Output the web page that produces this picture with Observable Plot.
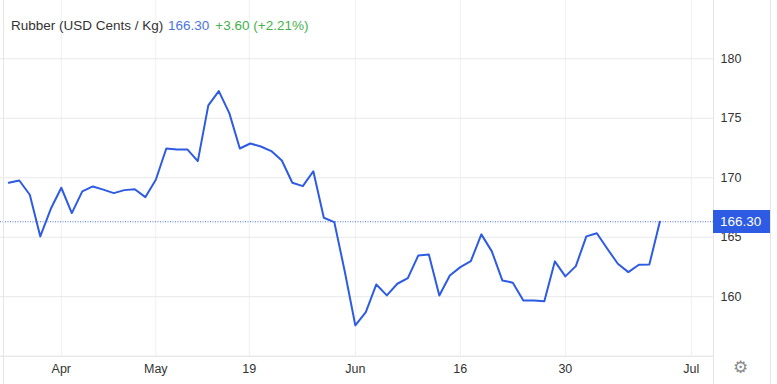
<!DOCTYPE html>
<html>
<head>
<meta charset="utf-8">
<script src="https://cdn.jsdelivr.net/npm/d3@7"></script>
<script src="https://cdn.jsdelivr.net/npm/@observablehq/plot@0.6"></script>
<style>
  html, body { margin: 0; padding: 0; background: #fff; }
  #wrap { position: relative; width: 777px; height: 384px; overflow: hidden; font-family: "Liberation Sans", Arial, sans-serif; }
  #title { position: absolute; left: 11px; top: 18px; font-size: 13.5px; color: #333; white-space: nowrap; }
  #title .val { color: #4d74dc; margin-left: 1px; }
  #title .chg { color: #45b04a; margin-left: 6px; }
  .vline { position: absolute; top: 0; width: 1px; height: 384px; background: #e6e6e6; }
  #badge { position: absolute; left: 713px; width: 57px; height: 23px; background: #2d5be3; color: #fff; font-size: 13.5px; line-height: 23px; padding-left: 7px; box-sizing: border-box; }
  #gear { position: absolute; left: 733px; top: 357px; font-family: "DejaVu Sans"; font-size: 17px; color: #8a8a8a; }
</style>
</head>
<body>
<div id="wrap"></div>
<script>
// ---- data ----
const seriesName = "Rubber (USD Cents / Kg)";
const values = [169.58, 169.77, 168.57, 165.07, 167.39, 169.16, 167.03, 168.85, 169.27, 169.0,
  168.71, 168.96, 169.04, 168.37, 169.83, 172.46, 172.38, 172.38, 171.4, 176.08,
  177.28, 175.43, 172.46, 172.88, 172.63, 172.24, 171.45, 169.58, 169.30, 170.55,
  166.64, 166.27, 162.1, 157.59, 158.71, 161.03, 160.11, 161.09, 161.56, 163.47,
  163.55, 160.11, 161.79, 162.49, 162.99, 165.24, 163.81, 161.37, 161.18, 159.69,
  159.69, 159.61, 162.97, 161.71, 162.57, 165.07, 165.34, 164.03, 162.77, 162.07,
  162.69, 162.70, 166.30];
const xTickIndex = [5, 14, 22.9, 33, 43, 53, 65];
const xTickLabels = ["Apr", "May", "19", "Jun", "16", "30", "Jul"];
const yTicks = [160, 165, 170, 175, 180];
const lastValue = 166.30;
const change = 3.60;
const changePct = 2.21;

const data = values.map((v, i) => ({i, v}));

const chart = Plot.plot({
  width: 777,
  height: 384,
  marginLeft: 0,
  marginRight: 64,
  marginTop: 0,
  marginBottom: 28.3,
  x: {domain: [-0.79, 67.11], axis: null, label: null},
  y: {domain: [155, 184.9], axis: null, label: null},
  style: {fontFamily: "'Liberation Sans', Arial, sans-serif", background: "transparent", color: "#333"},
  marks: [
    Plot.ruleX(xTickIndex, {stroke: "#f0f0f0"}),
    Plot.ruleY(yTicks, {stroke: "#e8e8e8"}),
    Plot.ruleY([155], {stroke: "#dedede"}),
    Plot.ruleY([lastValue], {stroke: "#4f72dd", strokeDasharray: "1,1.5", strokeWidth: 1}),
    Plot.line(data, {x: "i", y: "v", stroke: "#2d5be3", strokeWidth: 2, strokeLinejoin: "round"}),
    Plot.axisY({anchor: "right", label: null, ticks: yTicks, tickSize: 0, tickPadding: 7, fontSize: 12.5, tickFormat: d => String(d)}),
    Plot.axisX({label: null, ticks: xTickIndex, tickSize: 0, tickPadding: 7.5, fontSize: 12.5,
      tickFormat: d => xTickLabels[xTickIndex.indexOf(d)]})
  ]
});

const wrap = document.getElementById("wrap");
chart.style.position = "absolute";
chart.style.left = "0";
chart.style.top = "0";
wrap.appendChild(chart);

for (const x of [3, 713, 770]) {
  const d = document.createElement("div");
  d.className = "vline";
  d.style.left = x + "px";
  wrap.appendChild(d);
}

const title = document.createElement("div");
title.id = "title";
title.innerHTML = `${seriesName} <span class="val">${lastValue.toFixed(2)}</span><span class="chg">+${change.toFixed(2)} (+${changePct.toFixed(2)}%)</span>`;
wrap.appendChild(title);

const yScale = chart.scale("y");
const badge = document.createElement("div");
badge.id = "badge";
badge.textContent = lastValue.toFixed(2);
badge.style.top = (yScale.apply(lastValue) - 11.5) + "px";
wrap.appendChild(badge);

const gear = document.createElement("div");
gear.id = "gear";
gear.textContent = "\u2699";
wrap.appendChild(gear);
</script>
</body>
</html>
